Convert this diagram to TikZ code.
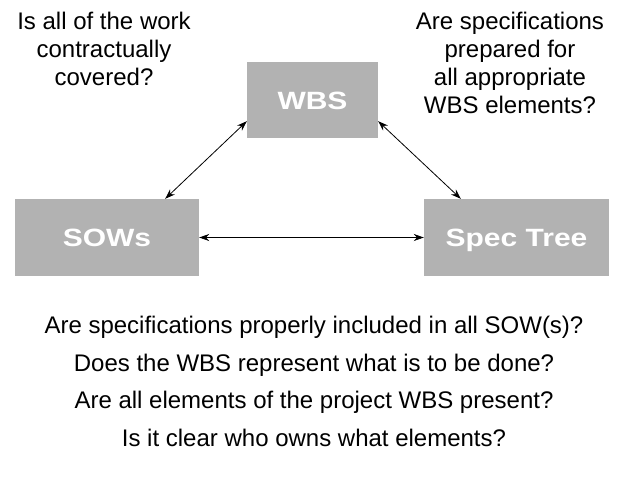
\documentclass[tikz,border=0pt]{standalone}
\usepackage{fontspec}
\setmainfont{Liberation Sans}
\newfontfamily\boxfont[FakeStretch=1.2]{Liberation Sans Bold}
\usetikzlibrary{arrows.meta}
\definecolor{boxgray}{RGB}{178,178,178}
\tikzset{
  block/.style={fill=boxgray, draw=none, inner sep=0pt, text=white,
    text height=18pt, text depth=0pt,
    font=\boxfont\fontsize{25}{30}\selectfont},
  question/.style={align=center, inner sep=0pt, anchor=base,
    font=\fontsize{24}{28}\selectfont},
  link/.style={line width=0.8pt,
    {Stealth[length=10pt,width=7pt]}-{Stealth[length=10pt,width=7pt]}}
}
\begin{document}
\begin{tikzpicture}[x=1pt,y=-1pt]
  \useasboundingbox (0,0) rectangle (627,491);
  % the three documents
  \node[block, minimum width=131pt, minimum height=76pt] (wbs) at (312.5,100) {WBS};
  \node[block, minimum width=184pt, minimum height=77pt] (sows) at (107,237.5) {SOWs};
  \node[block, minimum width=185pt, minimum height=77pt] (spec) at (516.5,237.5) {Spec Tree};
  % relationships between them
  \draw[link] ([xshift=-34pt]sows.north east) -- ([yshift=17pt]wbs.south west);
  \draw[link] ([yshift=17pt]wbs.south east) -- ([xshift=37pt]spec.north west);
  \draw[link] (sows.east) -- (spec.west);
  % checks on each relationship (base anchor = last line)
  \node[question] (qcover) at (104,85) {Is all of the work\\contractually\\covered?};
  \node[question] (qspec) at (510,113) {Are specifications\\prepared for\\all appropriate\\WBS elements?};
  \node[question] (q1) at (314,333) {Are specifications properly included in all SOW(s)?};
  \node[question] (q2) at (314,371) {Does the WBS represent what is to be done?};
  \node[question] (q3) at (314,408) {Are all elements of the project WBS present?};
  \node[question] (q4) at (314,446) {Is it clear who owns what elements?};
\end{tikzpicture}
\end{document}
